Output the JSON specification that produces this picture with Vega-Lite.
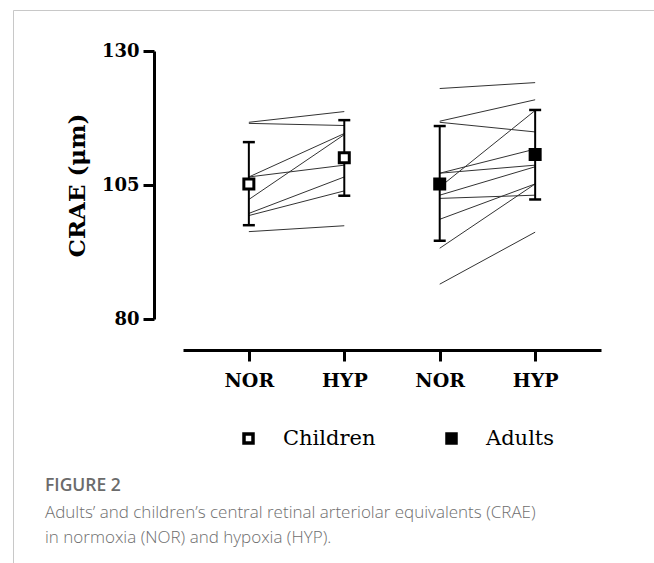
{
  "$schema": "https://vega.github.io/schema/vega-lite/v6.json",
  "width": 641,
  "height": 553,
  "autosize": {"type": "none"},
  "padding": {"left": 13, "top": 10, "right": 0, "bottom": 0},
  "background": "white",
  "config": {
    "view": {"stroke": "#c8c8c8", "strokeWidth": 1, "strokeDash": [641, 1194, 553]}
  },
  "title": {
    "text": "FIGURE 2",
    "subtitle": ["Adults’ and children’s central retinal arteriolar equivalents (CRAE)", "in normoxia (NOR) and hypoxia (HYP)."],
    "orient": "bottom",
    "anchor": "start",
    "frame": "group",
    "offset": -86,
    "dx": 32,
    "font": "Open Sans",
    "fontSize": 17.5,
    "fontWeight": 600,
    "color": "#6b6b6b",
    "subtitleFont": "Open Sans",
    "subtitleFontSize": 17,
    "subtitleFontWeight": 300,
    "subtitleColor": "#6e6e6e",
    "subtitleLineHeight": 25,
    "subtitlePadding": 10
  },
  "datasets": {
    "subjects": [
      {"id": "c1", "group": "Children", "pos": "Children NOR", "value": 116.7},
      {"id": "c1", "group": "Children", "pos": "Children HYP", "value": 118.7},
      {"id": "c2", "group": "Children", "pos": "Children NOR", "value": 116.5},
      {"id": "c2", "group": "Children", "pos": "Children HYP", "value": 116.1},
      {"id": "c3", "group": "Children", "pos": "Children NOR", "value": 106.5},
      {"id": "c3", "group": "Children", "pos": "Children HYP", "value": 114.6},
      {"id": "c4", "group": "Children", "pos": "Children NOR", "value": 106.5},
      {"id": "c4", "group": "Children", "pos": "Children HYP", "value": 108.7},
      {"id": "c5", "group": "Children", "pos": "Children NOR", "value": 102.3},
      {"id": "c5", "group": "Children", "pos": "Children HYP", "value": 114.4},
      {"id": "c6", "group": "Children", "pos": "Children NOR", "value": 99.7},
      {"id": "c6", "group": "Children", "pos": "Children HYP", "value": 106.5},
      {"id": "c7", "group": "Children", "pos": "Children NOR", "value": 99.3},
      {"id": "c7", "group": "Children", "pos": "Children HYP", "value": 103.9},
      {"id": "c8", "group": "Children", "pos": "Children NOR", "value": 96.3},
      {"id": "c8", "group": "Children", "pos": "Children HYP", "value": 97.4},
      {"id": "a1", "group": "Adults", "pos": "Adults NOR", "value": 123.0},
      {"id": "a1", "group": "Adults", "pos": "Adults HYP", "value": 124.1},
      {"id": "a2", "group": "Adults", "pos": "Adults NOR", "value": 116.9},
      {"id": "a2", "group": "Adults", "pos": "Adults HYP", "value": 120.9},
      {"id": "a3", "group": "Adults", "pos": "Adults NOR", "value": 116.7},
      {"id": "a3", "group": "Adults", "pos": "Adults HYP", "value": 114.9},
      {"id": "a4", "group": "Adults", "pos": "Adults NOR", "value": 107.2},
      {"id": "a4", "group": "Adults", "pos": "Adults HYP", "value": 111.7},
      {"id": "a5", "group": "Adults", "pos": "Adults NOR", "value": 107.2},
      {"id": "a5", "group": "Adults", "pos": "Adults HYP", "value": 108.7},
      {"id": "a6", "group": "Adults", "pos": "Adults NOR", "value": 104.6},
      {"id": "a6", "group": "Adults", "pos": "Adults HYP", "value": 118.9},
      {"id": "a7", "group": "Adults", "pos": "Adults NOR", "value": 103.1},
      {"id": "a7", "group": "Adults", "pos": "Adults HYP", "value": 108.4},
      {"id": "a8", "group": "Adults", "pos": "Adults NOR", "value": 102.5},
      {"id": "a8", "group": "Adults", "pos": "Adults HYP", "value": 103.1},
      {"id": "a9", "group": "Adults", "pos": "Adults NOR", "value": 98.6},
      {"id": "a9", "group": "Adults", "pos": "Adults HYP", "value": 105.2},
      {"id": "a10", "group": "Adults", "pos": "Adults NOR", "value": 93.2},
      {"id": "a10", "group": "Adults", "pos": "Adults HYP", "value": 105.2},
      {"id": "a11", "group": "Adults", "pos": "Adults NOR", "value": 86.5},
      {"id": "a11", "group": "Adults", "pos": "Adults HYP", "value": 96.2}
    ],
    "summary": [
      {"group": "Children", "pos": "Children NOR", "mean": 105.2, "lo": 97.5, "hi": 113.0},
      {"group": "Children", "pos": "Children HYP", "mean": 110.1, "lo": 103.0, "hi": 117.1},
      {"group": "Adults", "pos": "Adults NOR", "mean": 105.2, "lo": 94.6, "hi": 116.0},
      {"group": "Adults", "pos": "Adults HYP", "mean": 110.7, "lo": 102.3, "hi": 119.0}
    ]
  },
  "layer": [
    {
      "data": {"name": "subjects"},
      "mark": {"type": "line", "color": "#333333", "strokeWidth": 1},
      "encoding": {
        "x": {
          "field": "pos", "type": "nominal", "title": null,
          "scale": {"type": "point", "domain": ["Children NOR", "Children HYP", "Adults NOR", "Adults HYP"], "range": [170, 588], "padding": 0.69},
          "axis": {
            "labelExpr": "split(datum.label, ' ')[1]", "labelAngle": 0, "offset": -213, "grid": false,
            "domainColor": "black", "domainWidth": 3, "tickColor": "black", "tickWidth": 3, "tickSize": 11,
            "labelFont": "DejaVu Serif", "labelFontSize": 19, "labelFontWeight": "bold", "labelColor": "black", "labelPadding": 10
          }
        },
        "y": {
          "field": "value", "type": "quantitative", "title": "CRAE (μm)",
          "scale": {"domain": [80, 130], "range": [309, 41], "nice": false, "zero": false},
          "axis": {
            "values": [80, 105, 130], "offset": -141, "grid": false,
            "domainColor": "black", "domainWidth": 3, "tickColor": "black", "tickWidth": 3, "tickSize": 11,
            "labelFont": "DejaVu Serif", "labelFontSize": 18, "labelFontWeight": "bold", "labelColor": "black", "labelPadding": 4,
            "titleFont": "DejaVu Serif", "titleFontSize": 23, "titleFontWeight": "bold", "titleColor": "black", "titlePadding": 12
          }
        },
        "detail": {"field": "id", "type": "nominal"}
      }
    },
    {
      "data": {"name": "summary"},
      "mark": {"type": "rule", "color": "black", "strokeWidth": 2},
      "encoding": {
        "x": {"field": "pos", "type": "nominal", "title": null},
        "y": {"field": "lo", "type": "quantitative", "title": "CRAE (μm)"},
        "y2": {"field": "hi"}
      }
    },
    {
      "data": {"name": "summary"},
      "mark": {"type": "tick", "color": "black", "size": 12, "thickness": 2.5, "opacity": 1},
      "encoding": {
        "x": {"field": "pos", "type": "nominal", "title": null},
        "y": {"field": "lo", "type": "quantitative", "title": "CRAE (μm)"}
      }
    },
    {
      "data": {"name": "summary"},
      "mark": {"type": "tick", "color": "black", "size": 12, "thickness": 2.5, "opacity": 1},
      "encoding": {
        "x": {"field": "pos", "type": "nominal", "title": null},
        "y": {"field": "hi", "type": "quantitative", "title": "CRAE (μm)"}
      }
    },
    {
      "data": {"name": "summary"},
      "mark": {"type": "point", "shape": "square", "filled": true, "size": 100, "stroke": "black", "strokeWidth": 3, "opacity": 1},
      "encoding": {
        "x": {"field": "pos", "type": "nominal", "title": null},
        "y": {"field": "mean", "type": "quantitative", "title": "CRAE (μm)"},
        "fill": {
          "field": "group", "type": "nominal",
          "scale": {"domain": ["Children", "Adults"], "range": ["#ffffff", "#000000"]},
          "legend": {
            "title": null, "orient": "none", "legendX": 225, "legendY": 418, "direction": "horizontal",
            "symbolType": "square", "symbolSize": 81, "symbolStrokeColor": "black", "symbolStrokeWidth": 3.5, "symbolOpacity": 1,
            "labelFont": "DejaVu Serif", "labelFontSize": 21, "labelColor": "black", "labelOffset": 24,
            "columnPadding": 64, "padding": 0
          }
        }
      }
    }
  ]
}
